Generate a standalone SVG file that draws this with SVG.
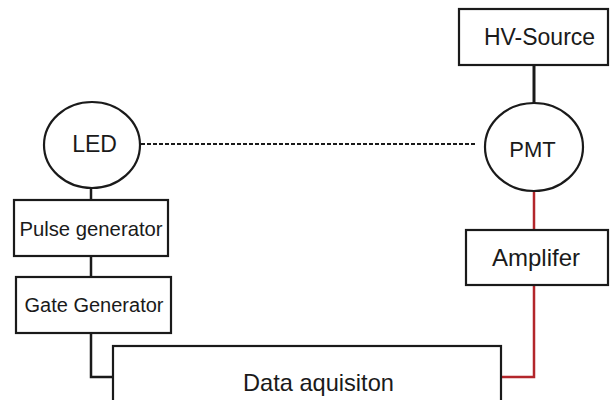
<svg xmlns="http://www.w3.org/2000/svg" width="610" height="400" viewBox="0 0 610 400">
<style>
.box{fill:#fff;stroke:#1a1a1a;stroke-width:2.2}
.t{font-family:"Liberation Sans",Arial,sans-serif;fill:#1a1a1a;text-anchor:middle}
.blk{fill:none;stroke:#1a1a1a;stroke-width:2.5}
.red{fill:none;stroke:#b3262b;stroke-width:2.5}
.dash{fill:none;stroke:#1a1a1a;stroke-width:2;stroke-dasharray:4 2}
</style>
<rect width="610" height="400" fill="#fff"/>
<g id="connectors">
<path class="dash" d="M141 144 H477"/>
<path class="blk" d="M534 65 V103" style="stroke-width:3"/>
<path class="blk" d="M91 188 V200"/>
<path class="blk" d="M91 256 V277"/>
<path class="blk" d="M91 333 V377 H113"/>
<path class="red" d="M534 192 V230"/>
<path class="red" d="M534 285 V377 H501"/>
</g>
<g id="hv-source"><rect class="box" x="459" y="9" width="149" height="56"/><text class="t" x="539.5" y="45" font-size="23">HV-Source</text></g>
<g id="led"><ellipse class="box" cx="92" cy="145" rx="48" ry="43"/><text class="t" x="94.5" y="152" font-size="23">LED</text></g>
<g id="pmt"><ellipse class="box" cx="534" cy="147" rx="49" ry="44"/><text class="t" x="532.5" y="157" font-size="22">PMT</text></g>
<g id="pulse-generator"><rect class="box" x="14" y="200" width="154" height="56"/><text class="t" x="91" y="236" font-size="20.3">Pulse generator</text></g>
<g id="gate-generator"><rect class="box" x="16" y="277" width="155" height="56"/><text class="t" x="94" y="312" font-size="20">Gate Generator</text></g>
<g id="amplifier"><rect class="box" x="466" y="230" width="142" height="55"/><text class="t" x="536" y="266" font-size="24">Amplifer</text></g>
<g id="data-acquisition"><rect class="box" x="113" y="346" width="388" height="70"/><text class="t" x="318.5" y="391" font-size="23.6">Data aquisiton</text></g>
</svg>
